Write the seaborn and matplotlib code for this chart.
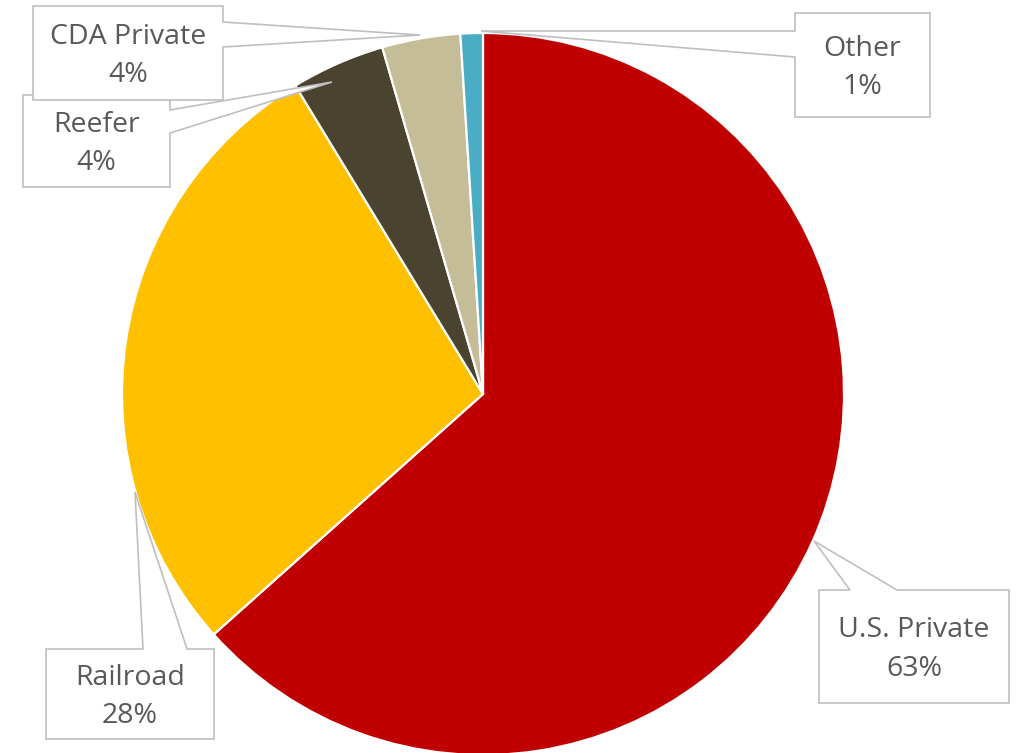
import matplotlib
matplotlib.use("Agg")
import matplotlib.pyplot as plt
from matplotlib.patches import Polygon
import seaborn as sns

# Share of fleet by car owner type
categories = ["U.S. Private", "Railroad", "Reefer", "CDA Private", "Other"]
shares = [63.4, 27.9, 4.2, 3.5, 1.0]
colors = ["#C00000", "#FFC000", "#4A4330", "#C4BD97", "#4BACC6"]

sns.set_theme(style="white")
plt.rcParams["font.family"] = ["Open Sans", "DejaVu Sans"]

W, H = 1018, 753
fig = plt.figure(figsize=(W / 100, H / 100), dpi=100)
ax = fig.add_axes([0, 0, 1, 1])


def px(x, y):
    """Pixel position (origin top-left) to axes data coordinates."""
    return (x, H - y)


cx, cy = px(483, 394)
radius = 361
ax.pie(shares, colors=colors, startangle=90, counterclock=False,
       center=(cx, cy), radius=radius,
       wedgeprops=dict(edgecolor="white", linewidth=1.6))
ax.set_xlim(0, W)
ax.set_ylim(0, H)
ax.set_aspect("equal")
ax.axis("off")

# Callout boxes: rectangle, pointer base on one side, pointer tip on the slice
callouts = {
    "Reefer": dict(box=(23, 95, 170, 187), side="right", base=(110, 133), tip=(332, 82)),
    "CDA Private": dict(box=(33, 6, 223, 100), side="right", base=(22, 47), tip=(420, 35)),
    "Other": dict(box=(795, 13, 930, 117), side="left", base=(31, 57), tip=(481, 31)),
    "Railroad": dict(box=(46, 649, 214, 739), side="top", base=(143, 187), tip=(135, 492)),
    "U.S. Private": dict(box=(819, 590, 1009, 703), side="top", base=(850, 897), tip=(814, 541)),
}

label_text = {c: f"{c}\n{round(v):.0f}%" for c, v in zip(categories, shares)}

z = 5
for name, c in callouts.items():
    x0, y0, x1, y1 = c["box"]
    b0, b1 = c["base"]
    t = c["tip"]
    if c["side"] == "right":
        pts = [(x0, y0), (x1, y0), (x1, b0), t, (x1, b1), (x1, y1), (x0, y1)]
    elif c["side"] == "left":
        pts = [(x0, y0), (x1, y0), (x1, y1), (x0, y1), (x0, b1), t, (x0, b0)]
    else:  # top
        pts = [(x0, y0), (b0, y0), t, (b1, y0), (x1, y0), (x1, y1), (x0, y1)]
    poly = Polygon([px(*p) for p in pts], closed=True, facecolor="white",
                   edgecolor="#BFBFBF", linewidth=1.2, zorder=z, joinstyle="miter")
    ax.add_patch(poly)
    tx, ty = px((x0 + x1) / 2, (y0 + y1) / 2 + 3)
    ax.text(tx, ty, label_text[name], ha="center", va="center",
            fontsize=20.5, color="#595959", linespacing=1.52, zorder=z + 0.5)
    z += 1

fig.savefig("out.png", dpi=100, facecolor="white")
